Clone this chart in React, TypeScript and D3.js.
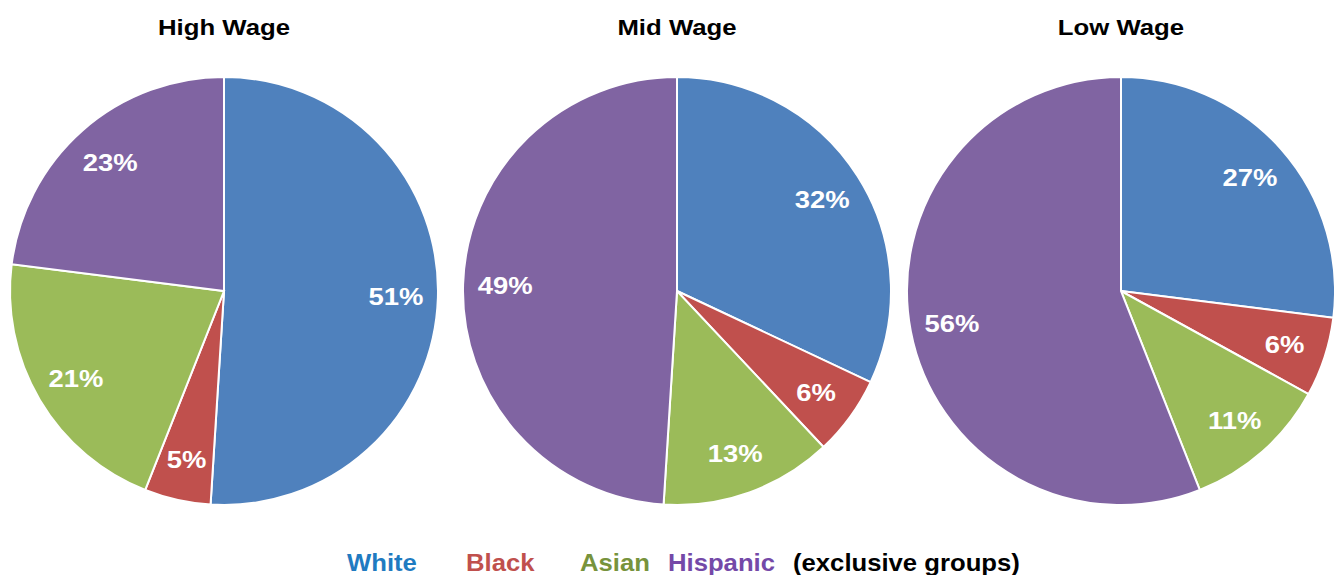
import React from "react";
import * as d3 from "d3";

const groups = ["White", "Black", "Asian", "Hispanic"];
const titles = ["High Wage", "Mid Wage", "Low Wage"];
const highWage = [51, 5, 21, 23];
const midWage = [32, 6, 13, 49];
const lowWage = [27, 6, 11, 56];
const sliceColors = ["#4f81bd", "#c0504d", "#9bbb59", "#8064a2"];
const legendColors = ["#1f7bc1", "#c0504d", "#77933c", "#7449a8"];
const legendNote = "(exclusive groups)";

const W = 1334;
const H = 575;
const centersX = [224, 677, 1121];
const legendX = [347, 466, 580, 668, 793];

function SText(props: { x: number; y: number; anchor?: string; size: number; fill: string; sx?: number; children: React.ReactNode; dy?: string }) {
  const { x, y, anchor = "start", size, fill, sx = 1.1, children, dy } = props;
  return (
    <text
      transform={`translate(${x},${y}) scale(${sx},1)`}
      textAnchor={anchor}
      fontSize={size}
      fontWeight="bold"
      fill={fill}
      dy={dy}
    >
      {children}
    </text>
  );
}

export default function App() {
  const series = [highWage, midWage, lowWage];
  const r = 214;
  const cy = 291;
  const pie = d3.pie<number>().sort(null).value((d) => d);
  const arc = d3.arc<d3.PieArcDatum<number>>().innerRadius(0).outerRadius(r);
  const labelArc = d3.arc<d3.PieArcDatum<number>>().innerRadius(172).outerRadius(172);
  const font = "'Liberation Sans', Arial, sans-serif";

  return (
    <svg width={W} height={H} style={{ position: "absolute", left: 0, top: 0 }} fontFamily={font}>
      <rect width={W} height={H} fill="#ffffff" />
      {series.map((vals, i) => {
        const arcs = pie(vals);
        const x = centersX[i];
        return (
          <g key={i}>
            <SText x={x} y={35} anchor="middle" size={23} fill="#000" sx={1.12}>
              {titles[i]}
            </SText>
            <g transform={`translate(${x},${cy})`}>
              {arcs.map((a, j) => (
                <path key={j} d={arc(a) as string} fill={sliceColors[j]} stroke="#ffffff" strokeWidth={2} />
              ))}
              {arcs.map((a, j) => {
                const [lx, ly] = labelArc.centroid(a);
                return (
                  <SText key={"l" + j} x={lx} y={ly} dy="0.36em" anchor="middle" size={24.5} fill="#ffffff" sx={1.12}>
                    {`${vals[j]}%`}
                  </SText>
                );
              })}
            </g>
          </g>
        );
      })}
      {groups.map((g, k) => (
        <SText key={g} x={legendX[k]} y={571} size={24} fill={legendColors[k]} sx={1.07}>
          {g}
        </SText>
      ))}
      <SText x={legendX[4]} y={571} size={24} fill="#000" sx={1.07}>
        {legendNote}
      </SText>
    </svg>
  );
}
